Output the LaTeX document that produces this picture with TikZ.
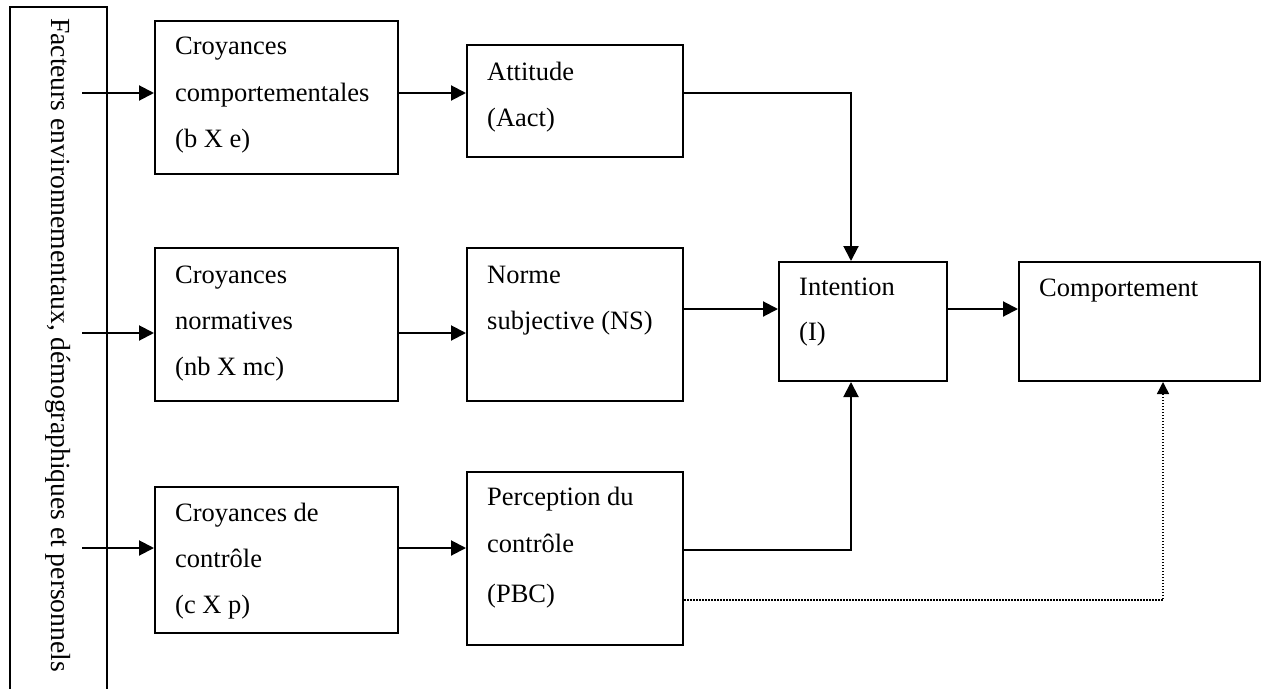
\documentclass[tikz,border=0pt]{standalone}
\usepackage{fontspec}
\setmainfont{Liberation Serif}
\usetikzlibrary{arrows.meta}
\begin{document}
\begin{tikzpicture}[x=1pt,y=-1pt,
  box/.style={draw, line width=2pt, inner sep=0pt, anchor=north west},
  txt/.style={anchor=base west, inner sep=0pt, font=\fontsize{26.5}{30}\selectfont},
  link/.style={line width=2pt, -{Triangle[length=15pt,width=15pt]}},
  weak/.style={line width=1.5pt, dash pattern=on 1.5pt off 1.5pt,
               -{Triangle[length=12pt,width=12pt]}}
]
\useasboundingbox (0,0) rectangle (1266,688);
\clip (0,0) rectangle (1266,688);

% side panel: environmental, demographic and personal factors
\draw[line width=2pt] (10,700) -- (10,7) -- (107,7) -- (107,700);
\node[txt, rotate=-90, font=\fontsize{27.6}{30}\selectfont] (fact) at (51,18)
  {Facteurs environnementaux, démographiques et personnels};

% boxes
\node[box, minimum width=243pt, minimum height=153pt] (cb)   at (154,20)  {};
\node[box, minimum width=216pt, minimum height=112pt] (att)  at (466,44)  {};
\node[box, minimum width=243pt, minimum height=153pt] (cn)   at (154,247) {};
\node[box, minimum width=216pt, minimum height=153pt] (ns)   at (466,247) {};
\node[box, minimum width=243pt, minimum height=146pt] (cc)   at (154,486) {};
\node[box, minimum width=216pt, minimum height=173pt] (pbc)  at (466,471) {};
\node[box, minimum width=168pt, minimum height=119pt] (int)  at (778,261) {};
\node[box, minimum width=241pt, minimum height=119pt] (comp) at (1018,261) {};

% box texts
\node[txt] (cb1) at (175,54)  {Croyances};
\node[txt] (cb2) at (175,101) {comportementales};
\node[txt] (cb3) at (175,147) {(b X e)};
\node[txt] (att1) at (487,80)  {Attitude};
\node[txt] (att2) at (487,126) {(Aact)};
\node[txt] (cn1) at (175,283) {Croyances};
\node[txt] (cn2) at (175,329) {normatives};
\node[txt] (cn3) at (175,375) {(nb X mc)};
\node[txt] (ns1) at (487,283) {Norme};
\node[txt] (ns2) at (487,329) {subjective (NS)};
\node[txt] (cc1) at (175,521) {Croyances de};
\node[txt] (cc2) at (175,567) {contrôle};
\node[txt] (cc3) at (175,613) {(c X p)};
\node[txt] (pbc1) at (487,505) {Perception du};
\node[txt] (pbc2) at (487,552) {contrôle};
\node[txt] (pbc3) at (487,602) {(PBC)};
\node[txt] (int1) at (799,295) {Intention};
\node[txt] (int2) at (799,340) {(I)};
\node[txt] (comp1) at (1039,296) {Comportement};

% connector rows and columns
\coordinate (s1) at (82,93);
\coordinate (s2) at (82,333);
\coordinate (s3) at (82,548);
\coordinate (r4) at (0,309);
\coordinate (r5) at (0,550);
\coordinate (r6) at (0,600);
\coordinate (jx) at (851,0);
\coordinate (jd) at (1163,0);

% connectors
\draw[link] (s1) -- (s1 -| cb.west);
\draw[link] (s2) -- (s2 -| cn.west);
\draw[link] (s3) -- (s3 -| cc.west);
\draw[link] (s1 -| cb.east) -- (s1 -| att.west);
\draw[link] (s2 -| cn.east) -- (s2 -| ns.west);
\draw[link] (s3 -| cc.east) -- (s3 -| pbc.west);
\draw[link] (s1 -| att.east) -| (jx |- int.north);
\draw[link] (r4 -| ns.east) -- (r4 -| int.west);
\draw[link] (r5 -| pbc.east) -| (jx |- int.south);
\draw[link] (r4 -| int.east) -- (r4 -| comp.west);
\draw[weak] (r6 -| pbc.east) -| (jd |- comp.south);
\end{tikzpicture}
\end{document}
